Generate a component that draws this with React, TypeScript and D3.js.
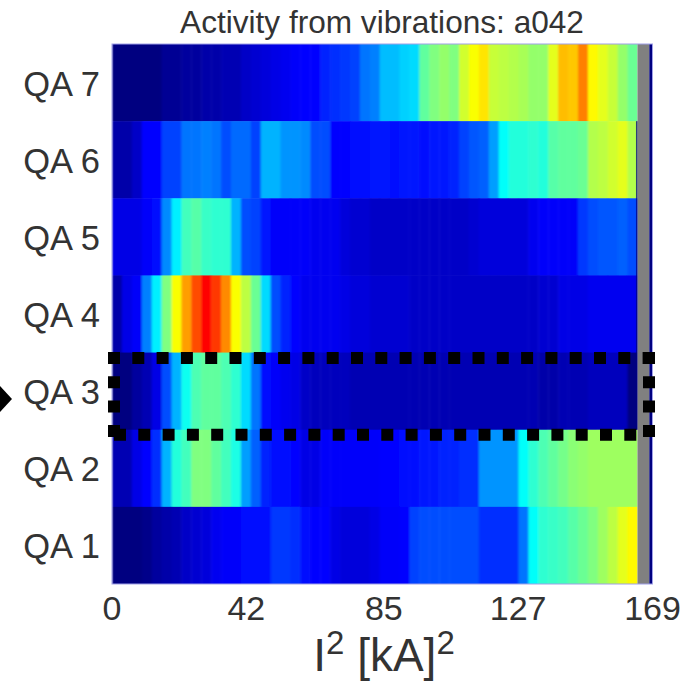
import React from "react";
import * as d3 from "d3";

const rowLabels = ["QA 7", "QA 6", "QA 5", "QA 4", "QA 3", "QA 2", "QA 1"];
const xTicks = [0, 42, 85, 127, 169];

const qa7 = [0,0,0,0,0,.02,.02,.03,.03,.04,.04,.05,.05,.07,.08,.09,.1,.11,.12,.125,.125,.16,.17,.18,.19,.24,.25,.31,.31,.33,.34,.47,.5,.52,.5,.58,.62,.65,.57,.56,.55,.54,.52,.52,.6,.69,.68,.75,.63,.6,.57,.52,.48];
const qa6 = [.04,.04,.07,.125,.125,.19,.19,.24,.24,.25,.24,.2,.23,.23,.19,.3,.3,.27,.27,.26,.2,.2,.13,.13,.14,.14,.15,.15,.14,.15,.15,.14,.15,.15,.16,.19,.21,.22,.28,.38,.41,.41,.42,.41,.46,.47,.47,.48,.55,.56,.58,.6,.55];
const qa5 = [.1,.1,.1,.12,.14,.26,.36,.44,.46,.43,.42,.42,.3,.2,.19,.15,.12,.12,.12,.12,.11,.11,.11,.09,.08,.08,.07,.07,.07,.07,.07,.07,.07,.07,.07,.07,.08,.09,.09,.09,.09,.09,.11,.12,.12,.12,.12,.18,.2,.21,.21,.22,.2];
const qa4 = [.04,.1,.12,.25,.36,.5,.62,.72,.8,.87,.82,.74,.62,.56,.48,.34,.2,.16,.13,.11,.11,.11,.11,.1,.09,.09,.08,.08,.08,.08,.07,.07,.07,.07,.07,.07,.07,.07,.07,.07,.07,.07,.07,.08,.08,.1,.1,.1,.11,.11,.11,.11,.11];
const qa3 = [0,0,.03,.05,.1,.2,.3,.39,.45,.47,.47,.45,.42,.34,.24,.14,.12,.11,.1,.07,.06,.06,.06,.06,.05,.05,.05,.05,.05,.05,.05,.05,.05,.05,.05,.05,.05,.05,.05,.05,.05,.05,.05,.04,.04,.05,.05,.05,.06,.06,.06,.06,0];
const qa2 = [.05,.05,.1,.13,.17,.3,.41,.44,.5,.5,.47,.44,.4,.28,.22,.16,.14,.14,.13,.1,.1,.12,.12,.12,.12,.12,.12,.13,.13,.14,.14,.15,.15,.16,.16,.17,.17,.27,.27,.27,.27,.38,.42,.45,.47,.49,.51,.52,.53,.53,.53,.53,.53];
const qa1 = [0,0,0,.01,.03,.04,.05,.07,.08,.09,.11,.12,.12,.14,.14,.14,.18,.18,.17,.14,.13,.13,.1,.09,.09,.09,.1,.12,.12,.13,.19,.2,.2,.2,.2,.2,.2,.17,.17,.17,.17,.24,.38,.42,.43,.44,.46,.48,.5,.53,.56,.6,.63];

const rowValues = [qa7, qa6, qa5, qa4, qa3, qa2, qa1];
const binWidth = 3.1;
const xMax = 169;
const greyEnd = 168;

const jet = d3
  .scaleLinear<string>()
  .domain([0, 0.125, 0.375, 0.625, 0.875, 1])
  .range(["#000080", "#0000ff", "#00ffff", "#ffff00", "#ff0000", "#800000"])
  .interpolate(d3.interpolateRgb.gamma(1) as any)
  .clamp(true);

const x = d3.scaleLinear().domain([0, xMax]).range([112, 652.5]);
const y = d3.scaleBand<string>().domain(rowLabels).range([44, 584]);

const lineGen = d3.line();
const dataEnd = qa7.length * binWidth;

export default function App() {
  const font = "'Liberation Sans', Arial, sans-serif";
  const ink = "#333333";
  const top = y("QA 3")!;
  const bottom = top + y.bandwidth();
  const hSeg = (a: number, b: number, yy: number) => lineGen([[a, yy], [b, yy]])!;
  const vSeg = (xx: number, a: number, b: number) => lineGen([[xx, a], [xx, b]])!;
  return (
    <svg width={689} height={682} style={{ position: "absolute", left: 0, top: 0 }} fontFamily={font}>
      <defs>
        <filter id="soft" x="-1%" y="-1%" width="102%" height="102%">
          <feGaussianBlur stdDeviation="1.3 0.5" />
        </filter>
        <clipPath id="heat">
          <rect x={112} y={44} width={x(dataEnd) - 112} height={540} />
        </clipPath>
      </defs>
      <g clipPath="url(#heat)">
        <g filter="url(#soft)">
          {rowValues.map((vals, r) => (
            <g key={rowLabels[r]}>
              {vals.map((v, i) => (
                <rect
                  key={i}
                  x={x(i * binWidth)}
                  y={y(rowLabels[r])}
                  width={x((i + 1) * binWidth) - x(i * binWidth) + 0.5}
                  height={y.bandwidth() + 0.5}
                  fill={jet(v)}
                />
              ))}
              <rect
                x={x(vals.length * binWidth)}
                y={y(rowLabels[r])}
                width={10}
                height={y.bandwidth() + 0.5}
                fill={jet(vals[vals.length - 1])}
              />
            </g>
          ))}
        </g>
      </g>
      <rect x={x(dataEnd)} y={44} width={x(greyEnd) - x(dataEnd)} height={540} fill="#808080" />
      <rect x={x(greyEnd)} y={44} width={x(xMax) - x(greyEnd)} height={540} fill="#000080" />
      <rect x={x(dataEnd) - 1.5} y={y("QA 6")} width={1.5} height={y("QA 2")! - y("QA 6")!} fill="#000080" opacity={0.75} />
      <rect x={112} y={44} width={540.5} height={540} fill="none" stroke="#a0a0e8" strokeWidth={1} />

      <text x={382} y={33} textAnchor="middle" fontSize={31.6} fill={ink}>
        Activity from vibrations: a042
      </text>

      {rowLabels.map((l) => (
        <text key={l} x={100} y={y(l)! + y.bandwidth() / 2 + 13} textAnchor="end" fontSize={34.5} fill={ink}>
          {l}
        </text>
      ))}
      {xTicks.map((t) => (
        <text key={t} x={x(t)} y={620} textAnchor="middle" fontSize={34} fill={ink}>
          {t}
        </text>
      ))}
      <text x={384} y={671} textAnchor="middle" fontSize={46} fill={ink}>
        I<tspan dy={-17} fontSize={33}>2</tspan>
        <tspan dy={17}> [kA]</tspan>
        <tspan dy={-17} fontSize={33}>2</tspan>
      </text>

      <g fill="none" stroke="#000" strokeWidth={12} strokeDasharray="12 12.3">
        <path d={hSeg(108, 656, top + 5.5)} />
        <path d={hSeg(114, 638, bottom + 5)} />
        <path d={vSeg(114, 352, 442)} />
        <path d={vSeg(649, 352, 441)} />
      </g>
      <path d="M0,386 L12,399 L0,412 Z" fill="#000" />
    </svg>
  );
}
